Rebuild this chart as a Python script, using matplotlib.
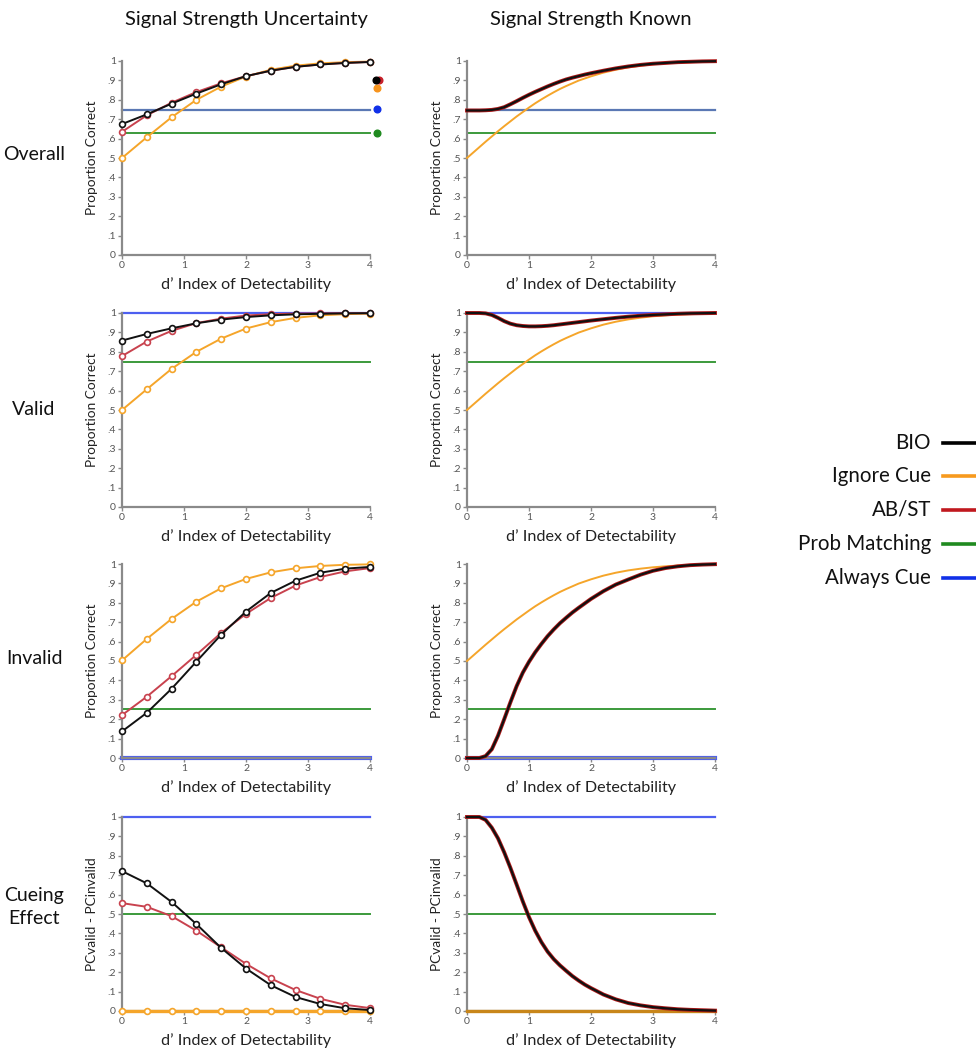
import matplotlib
matplotlib.use("Agg")
import matplotlib.pyplot as plt
from matplotlib.lines import Line2D

plt.rcParams['font.family'] = ['Lato', 'DejaVu Sans']

# ---------------- data ----------------
d_pts = [0.0, 0.4, 0.8, 1.2, 1.6, 2.0, 2.4, 2.8, 3.2, 3.6, 4.0]
d_fine = [0.0, 0.1, 0.2, 0.3, 0.4, 0.5, 0.6, 0.7, 0.8, 0.9, 1.0,
          1.1, 1.2, 1.3, 1.4, 1.5, 1.6, 1.7, 1.8, 1.9, 2.0,
          2.2, 2.4, 2.6, 2.8, 3.0, 3.2, 3.4, 3.6, 3.8, 4.0]

# Signal Strength Uncertainty (points)
ovr_bio = [0.675, 0.725, 0.78, 0.832, 0.88, 0.922, 0.95, 0.97, 0.982, 0.99, 0.995]
ovr_abst = [0.635, 0.72, 0.785, 0.84, 0.885, 0.922, 0.95, 0.97, 0.982, 0.99, 0.995]
ovr_ign = [0.5, 0.607, 0.71, 0.80, 0.868, 0.92, 0.955, 0.976, 0.988, 0.994, 0.997]
val_bio = [0.858, 0.892, 0.921, 0.947, 0.966, 0.979, 0.988, 0.993, 0.996, 0.998, 0.999]
val_abst = [0.778, 0.853, 0.908, 0.948, 0.971, 0.987, 0.994, 0.997, 0.998, 0.999, 0.999]
val_ign = [0.5, 0.607, 0.712, 0.80, 0.868, 0.92, 0.953, 0.975, 0.988, 0.994, 0.997]
inv_bio = [0.137, 0.233, 0.357, 0.497, 0.636, 0.755, 0.851, 0.914, 0.955, 0.976, 0.985]
inv_abst = [0.221, 0.316, 0.422, 0.532, 0.645, 0.743, 0.825, 0.889, 0.933, 0.962, 0.979]
inv_ign = [0.503, 0.614, 0.717, 0.806, 0.875, 0.923, 0.957, 0.978, 0.99, 0.996, 0.998]
cue_bio = [0.721, 0.658, 0.562, 0.448, 0.325, 0.219, 0.133, 0.072, 0.036, 0.014, 0.005]
cue_abst = [0.556, 0.537, 0.489, 0.414, 0.328, 0.243, 0.168, 0.108, 0.063, 0.032, 0.015]
cue_ign = [0.0, 0.0, 0.0, 0.0, 0.0, 0.0, 0.0, 0.0, 0.0, 0.0, 0.0]

# Signal Strength Known (curves, read on d_fine)
k_ign = [0.5, 0.528, 0.556, 0.584, 0.611, 0.638, 0.664, 0.689, 0.714, 0.737, 0.760,
         0.782, 0.802, 0.821, 0.839, 0.856, 0.871, 0.885, 0.899, 0.910, 0.921,
         0.940, 0.955, 0.967, 0.976, 0.983, 0.988, 0.992, 0.994, 0.996, 0.998]
k_ovr_bio = [0.745, 0.745, 0.745, 0.746, 0.748, 0.753, 0.762, 0.777, 0.793, 0.810, 0.826,
             0.841, 0.855, 0.869, 0.882, 0.894, 0.905, 0.914, 0.922, 0.930, 0.937,
             0.950, 0.962, 0.972, 0.980, 0.986, 0.990, 0.994, 0.996, 0.998, 0.999]
k_val_bio = [1.0, 1.0, 1.0, 0.998, 0.99, 0.975, 0.958, 0.945, 0.937, 0.933, 0.931,
             0.931, 0.932, 0.934, 0.937, 0.941, 0.945, 0.949, 0.953, 0.957, 0.961,
             0.968, 0.975, 0.981, 0.986, 0.990, 0.993, 0.996, 0.998, 0.999, 1.0]
k_inv_bio = [0.0, 0.0, 0.0, 0.01, 0.045, 0.115, 0.2, 0.287, 0.37, 0.44, 0.496,
             0.545, 0.588, 0.628, 0.663, 0.695, 0.723, 0.75, 0.774, 0.797, 0.82,
             0.86, 0.894, 0.92, 0.945, 0.965, 0.979, 0.988, 0.994, 0.997, 0.999]
k_cue_bio = [1.0, 1.0, 1.0, 0.985, 0.945, 0.89, 0.818, 0.738, 0.652, 0.565, 0.484,
             0.414, 0.355, 0.306, 0.267, 0.235, 0.207, 0.18, 0.157, 0.136, 0.118,
             0.085, 0.060, 0.041, 0.029, 0.020, 0.014, 0.009, 0.006, 0.004, 0.002]
k_cue_ign = [0.0] * 31

# Reference (constant) strategies per row
prob_match = [0.63, 0.75, 0.255, 0.5]
always_cue = [0.75, 1.0, 0.0, 1.0]

# Right-side dots (overall summary) in top-left panel
dot_vals = {'BIO': 0.903, 'AB/ST': 0.903, 'Ignore Cue': 0.861, 'Always Cue': 0.752, 'Prob Matching': 0.631}

row_names = ["Overall", "Valid", "Invalid", "Cueing\nEffect"]
col_titles = ["Signal Strength Uncertainty", "Signal Strength Known"]
ylabels = ["Proportion Correct", "Proportion Correct", "Proportion Correct", "PCvalid - PCinvalid"]
xlabel = "d\u2019 Index of Detectability"
yticks = [0, 0.1, 0.2, 0.3, 0.4, 0.5, 0.6, 0.7, 0.8, 0.9, 1.0]
yticklabels = ["0", ".1", ".2", ".3", ".4", ".5", ".6", ".7", ".8", ".9", "1"]
xticks = [0, 1, 2, 3, 4]
legend_labels = ["BIO", "Ignore Cue", "AB/ST", "Prob Matching", "Always Cue"]

# ---------------- styles ----------------
C_BIO = "#111111"
C_IGN = "#f5a52a"
C_AB = "#c8424e"
C_AB_K = "#b01818"
C_PM = "#3b9a3b"
C_AC = "#4d5ff0"
C_AC1 = "#5a78b4"
LEG_COL = ["#000000", "#f79a1e", "#c0181e", "#1f8a1f", "#1030e8"]

W, H = 976, 1050
fig = plt.figure(figsize=(W / 100, H / 100), dpi=100)

col_x = [122, 467]
col_w = 248
row_top = [61, 313, 564, 817]
row_h = 194


def make_ax(r, c):
    ax = fig.add_axes([col_x[c] / W, 1 - (row_top[r] + row_h) / H, col_w / W, row_h / H])
    ax.set_xlim(0, 4)
    ax.set_ylim(0, 1)
    for s in ['top', 'right']:
        ax.spines[s].set_visible(False)
    for s in ['left', 'bottom']:
        ax.spines[s].set_color('#8a8a8a')
        ax.spines[s].set_linewidth(1.6)
    ax.set_yticks(yticks)
    ax.set_yticklabels(yticklabels)
    ax.set_xticks(xticks)
    ax.tick_params(axis='both', labelsize=7.5, colors='#8a8a8a', length=3, width=1,
                   labelcolor='#555555', pad=1.5)
    ax.set_ylabel(ylabels[r], fontsize=9.8, color='#222222')
    ax.yaxis.set_label_coords(-0.095, 0.5)
    ax.set_xlabel(xlabel, fontsize=11.6, color='#222222', labelpad=5)
    return ax


valid_rows_left = [(ovr_bio, ovr_abst, ovr_ign), (val_bio, val_abst, val_ign),
                   (inv_bio, inv_abst, inv_ign), (cue_bio, cue_abst, cue_ign)]
known_rows = [(k_ovr_bio, k_ign), (k_val_bio, k_ign), (k_inv_bio, k_ign), (k_cue_bio, k_cue_ign)]

mk = dict(marker='o', markersize=4.2, markerfacecolor='white', markeredgewidth=1.2, clip_on=False)

for r in range(4):
    # left column
    ax = make_ax(r, 0)
    ac_col = C_AC1 if r == 0 else C_AC
    ac_lw = 3 if r == 2 else 1.6
    ax.plot([0, 4], [always_cue[r]] * 2, color=ac_col, lw=ac_lw, clip_on=False, zorder=2)
    ax.plot([0, 4], [prob_match[r]] * 2, color=C_PM, lw=1.4, clip_on=False, zorder=2)
    bio, ab, ign = valid_rows_left[r]
    ign_lw = 2.4 if r == 3 else 1.4
    ax.plot(d_pts, ign, color=C_IGN, lw=ign_lw, markeredgecolor=C_IGN, zorder=3, **mk)
    ax.plot(d_pts, ab, color=C_AB, lw=1.4, markeredgecolor=C_AB, zorder=4, **mk)
    ax.plot(d_pts, bio, color=C_BIO, lw=1.4, markeredgecolor=C_BIO, zorder=5, **mk)
    if r == 0:
        ax.plot([4.15], [dot_vals['AB/ST']], 'o', color="#c8202a", ms=4.8, clip_on=False, zorder=6)
        ax.plot([4.1], [dot_vals['BIO']], 'o', color="#000000", ms=4.8, clip_on=False, zorder=7)
        ax.plot([4.12], [dot_vals['Ignore Cue']], 'o', color="#f7941d", ms=4.8, clip_on=False)
        ax.plot([4.12], [dot_vals['Always Cue']], 'o', color="#1030e8", ms=4.8, clip_on=False)
        ax.plot([4.12], [dot_vals['Prob Matching']], 'o', color="#1f8a1f", ms=4.8, clip_on=False)

    # right column
    ax = make_ax(r, 1)
    ax.plot([0, 4], [always_cue[r]] * 2, color=ac_col, lw=ac_lw, clip_on=False, zorder=2)
    ax.plot([0, 4], [prob_match[r]] * 2, color=C_PM, lw=1.4, clip_on=False, zorder=2)
    kbio, kign = known_rows[r]
    if r == 3:
        ax.plot(d_fine, kign, color="#c8861a", lw=2.4, clip_on=False, zorder=3)
    else:
        ax.plot(d_fine, kign, color=C_IGN, lw=1.4, clip_on=False, zorder=3)
    ax.plot(d_fine, kbio, color=C_AB_K, lw=2.8, clip_on=False, zorder=4, solid_joinstyle='round')
    ax.plot(d_fine, kbio, color=C_BIO, lw=1.6, clip_on=False, zorder=5, solid_joinstyle='round')

# column titles
for c, t in enumerate(col_titles):
    cx = (col_x[c] + col_w / 2) / W
    fig.text(cx, 1 - 19 / H, t, ha='center', va='center', fontsize=14.5, color='#111111')

# row labels
row_cy = [155, 410, 658, 907]
for r, name in enumerate(row_names):
    fig.text(34 / W, 1 - row_cy[r] / H, name, ha='center', va='center', fontsize=14,
             color='#111111', linespacing=1.5)

# legend
leg_y = [443, 476, 510, 544, 578]
for lab, col, y in zip(legend_labels, LEG_COL, leg_y):
    fig.text(931 / W, 1 - y / H, lab, ha='right', va='center', fontsize=14.8, color='#111111')
    fig.add_artist(Line2D([943 / W, 976 / W], [1 - y / H, 1 - y / H], color=col, lw=2.6,
                          transform=fig.transFigure))

fig.savefig("out.png", dpi=100)
